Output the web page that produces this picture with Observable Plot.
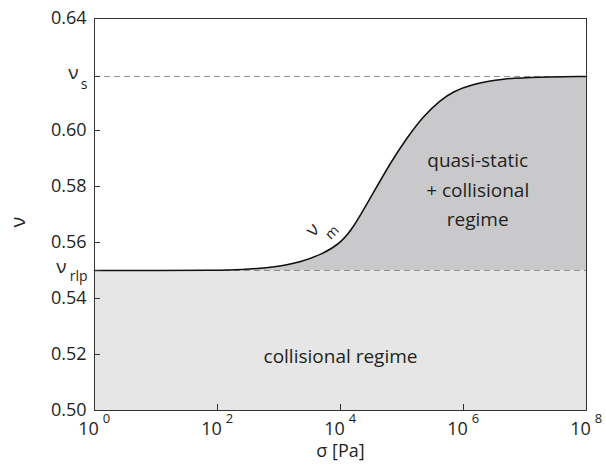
<!DOCTYPE html>
<html>
<head>
<meta charset="utf-8">
<script src="https://cdn.jsdelivr.net/npm/d3@7"></script>
<script src="https://cdn.jsdelivr.net/npm/@observablehq/plot@0.6"></script>
<style>
  html, body { margin: 0; padding: 0; background: #fff; }
  #chart { width: 606px; height: 466px; }
</style>
</head>
<body>
<div id="chart"></div>
<script>
// ---- data ----
const sigma = [1, 10, 100, 234, 813, 2.24e3, 5.25e3, 1.0e4, 1.62e4, 3.47e4, 6.46e4, 1.23e5, 2.24e5, 4.27e5, 6.9e5, 1.29e6, 4.47e6, 1.58e7, 1e8];
const nuM   = [0.55, 0.55, 0.5501, 0.5503, 0.5511, 0.5529, 0.5560, 0.5598, 0.5652, 0.5780, 0.5884, 0.5977, 0.6052, 0.6110, 0.6139, 0.6164, 0.6186, 0.6191, 0.6193];
const nuS = 0.6193;
const nuRlp = 0.55;
const xDomain = [1, 1e8];
const yDomain = [0.50, 0.64];
const xTicks = [1, 1e2, 1e4, 1e6, 1e8];
const xExponents = ["0", "2", "4", "6", "8"];
const yTicks = [0.50, 0.52, 0.54, 0.56, 0.58, 0.60, 0.64];
const regionLabel = "collisional regime";
const upperLabel = ["quasi-static", "+ collisional", "regime"];
const upperLabelPos = {x: 1.7e6, y: [0.5893, 0.5786, 0.5679]};

const curveData = sigma.map((s, i) => ({sigma: s, nu: nuM[i]}));
const upperData = upperLabel.map((t, i) => ({t, y: upperLabelPos.y[i]}));

const FONT = "Open Sans";
const INK = "#231f20";
const lightGray = "#e6e6e7";
const darkGray = "#c9c9cb";

const chart = Plot.plot({
  width: 606,
  height: 466,
  marginLeft: 94,
  marginRight: 20,
  marginTop: 18,
  marginBottom: 56,
  x: {type: "log", domain: xDomain, axis: null},
  y: {domain: yDomain, axis: null},
  style: {fontFamily: FONT, background: "#fff", color: INK},
  marks: [
    Plot.rect([nuRlp], {x1: xDomain[0], x2: xDomain[1], y1: yDomain[0], y2: d => d, fill: lightGray}),
    Plot.areaY(curveData, {x: "sigma", y1: nuRlp, y2: "nu", fill: darkGray, curve: "basis"}),
    Plot.ruleY([nuRlp, nuS], {stroke: "#8f8f8f", strokeWidth: 1, strokeDasharray: "6,4"}),
    Plot.line(curveData, {x: "sigma", y: "nu", stroke: "#111", strokeWidth: 1.5, curve: "basis"}),
    Plot.frame({stroke: "#333", strokeWidth: 1}),
    // inward ticks
    Plot.ruleX(xTicks, {x: d => d, insetTop: 386, stroke: "#333"}),
    Plot.ruleY(yTicks.concat([nuS, nuRlp]), {y: d => d, insetRight: 486, stroke: "#333"}),
    // y tick labels
    Plot.text(yTicks, {y: d => d, text: d => d.toFixed(2), frameAnchor: "left", textAnchor: "end", dx: -8, fontSize: 18, fill: INK}),
    Plot.text([nuS], {y: d => d, text: () => "ν", frameAnchor: "left", textAnchor: "end", dx: -16, dy: -4, fontSize: 19, fill: INK}),
    Plot.text([nuS], {y: d => d, text: () => "s", frameAnchor: "left", textAnchor: "end", dx: -7, dy: 8, fontSize: 14, fill: INK}),
    Plot.text([nuRlp], {y: d => d, text: () => "ν", frameAnchor: "left", textAnchor: "end", dx: -28, dy: -4, fontSize: 19, fill: INK}),
    Plot.text([nuRlp], {y: d => d, text: () => "rlp", frameAnchor: "left", textAnchor: "end", dx: -7, dy: 6, fontSize: 14, fill: INK}),
    // x tick labels
    Plot.text(xTicks, {x: d => d, text: () => "10", frameAnchor: "bottom", dx: -6, dy: 24, fontSize: 18, fill: INK}),
    Plot.text(xTicks, {x: d => d, text: (d, i) => xExponents[i], frameAnchor: "bottom", dx: 12, dy: 12, fontSize: 13, fill: INK}),
    // axis labels
    Plot.text(["σ [Pa]"], {text: d => d, frameAnchor: "bottom", dy: 46, fontSize: 18, fill: INK}),
    Plot.text(["ν"], {text: d => d, frameAnchor: "left", dx: -76, dy: 13, rotate: -90, fontSize: 20, fill: INK}),
    // annotations
    Plot.text(["ν"], {x: () => 3.5e3, y: () => 0.5645, text: d => d, rotate: -45, fontSize: 19, fill: INK}),
    Plot.text(["m"], {x: () => 7.3e3, y: () => 0.5636, text: d => d, rotate: -45, fontSize: 14, fill: INK}),
    Plot.text(upperData, {x: () => upperLabelPos.x, y: "y", text: "t", fontSize: 19, fill: INK}),
    Plot.text([regionLabel], {x: () => 1e4, y: () => 0.519, text: d => d, fontSize: 19, fill: INK})
  ]
});
document.getElementById("chart").appendChild(chart);
</script>
</body>
</html>
